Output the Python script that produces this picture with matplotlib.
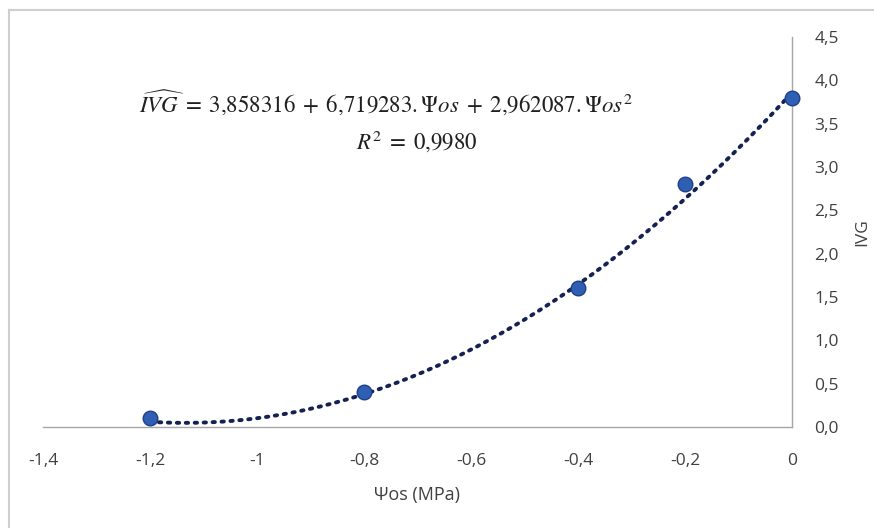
import matplotlib
matplotlib.use("Agg")
import matplotlib.pyplot as plt
from matplotlib.lines import Line2D
from matplotlib.ticker import FuncFormatter
import numpy as np

# observed points
psi_os = [-1.2, -0.8, -0.4, -0.2, 0.0]
ivg = [0.1, 0.4, 1.6, 2.8, 3.8]

# quadratic trend line coefficients shown on the chart (c0 + c1*x + c2*x^2)
coefs = [3.858316, 6.719283, 2.962087]

xticks = [-1.4, -1.2, -1.0, -0.8, -0.6, -0.4, -0.2, 0.0]
yticks = [0.0, 0.5, 1.0, 1.5, 2.0, 2.5, 3.0, 3.5, 4.0, 4.5]

plt.rcParams['font.family'] = ['Open Sans', 'DejaVu Sans']
plt.rcParams['mathtext.fontset'] = 'stix'

W, H = 874, 528
fig = plt.figure(figsize=(W / 100, H / 100), dpi=100)
ax = fig.add_axes([43 / W, 1 - 427 / H, (792 - 43) / W, (427 - 37) / H])

# outer chart frame (only left & top visible in reference)
fig.add_artist(Line2D([9 / W, 9 / W], [0, 1 - 10 / H], transform=fig.transFigure, color="#cfcfcf", lw=1.5))
fig.add_artist(Line2D([9 / W, 1], [1 - 10 / H, 1 - 10 / H], transform=fig.transFigure, color="#cfcfcf", lw=1.5))

xs = np.linspace(min(psi_os), max(psi_os), 200)
trend = np.polyval(coefs[::-1], xs)
ax.plot(xs, trend, linestyle=(0, (0.6, 1.7)), color="#142152", lw=2.8, dash_capstyle="round", zorder=2)
ax.plot(psi_os, ivg, "o", markersize=10.5, markerfacecolor="#2f5fb3", markeredgecolor="#1f3f8a",
        markeredgewidth=1.0, zorder=3, clip_on=False)

ax.set_xlim(-1.4, 0)
ax.set_ylim(0, 4.5)
ax.set_xticks(xticks)
ax.set_yticks(yticks)

def xfmt(v, pos):
    if abs(v) < 1e-9:
        return "0"
    s = ("%.1f" % v).rstrip("0").rstrip(".")
    return s.replace(".", ",")

ax.xaxis.set_major_formatter(FuncFormatter(xfmt))
ax.yaxis.set_major_formatter(FuncFormatter(lambda v, p: ("%.1f" % v).replace(".", ",")))

ax.yaxis.tick_right()
ax.yaxis.set_label_position("right")
ax.tick_params(axis="both", length=0, labelsize=12.5, colors="#404040")
ax.tick_params(axis="x", pad=19)
ax.tick_params(axis="y", pad=16)

for side in ["left", "top"]:
    ax.spines[side].set_visible(False)
for side in ["right", "bottom"]:
    ax.spines[side].set_color("#a6a6a6")
    ax.spines[side].set_linewidth(1.0)

ax.set_xlabel("Ψos (MPa)", fontsize=13, color="#404040", labelpad=12)
ax.set_ylabel("IVG", fontsize=12.5, color="#404040", labelpad=11)

ax.text(-0.759, 3.74,
        r"$\widehat{IVG}\; = \;3{,}858316 \;+\; 6{,}719283.\Psi os \;+\; 2{,}962087.\Psi os^2$",
        fontsize=16.5, ha="center", va="center", color="#202020")
ax.text(-0.701, 3.29, r"$R^2\; =\; 0{,}9980$", fontsize=16.5, ha="center", va="center", color="#202020")

fig.savefig("out.png", dpi=100, facecolor="white")
